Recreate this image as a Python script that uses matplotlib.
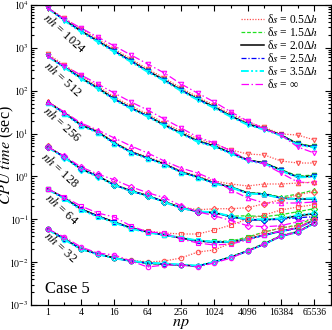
import math
import matplotlib
matplotlib.use('Agg')
import matplotlib.pyplot as plt
from matplotlib.lines import Line2D
from matplotlib.ticker import FixedLocator, FixedFormatter, LogLocator, NullFormatter, FuncFormatter

plt.rcParams['font.family'] = ['Liberation Serif', 'DejaVu Serif']
plt.rcParams['mathtext.fontset'] = 'stix'

# ---------------- data ----------------
n_procs = [1, 2, 4, 8, 16, 32, 64, 128, 256, 512, 1024, 2048, 4096, 8192, 16384, 32768, 65536]
x_ticks = [1, 4, 16, 64, 256, 1024, 4096, 16384, 65536]
x_tick_labels = ['1', '4', '16', '64', '256', '1024', '4096', '16384', '65536']
series_labels = ['δ$s$ = 0.5Δ$h$', 'δ$s$ = 1.5Δ$h$', 'δ$s$ = 2.0Δ$h$',
                 'δ$s$ = 2.5Δ$h$', 'δ$s$ = 3.5Δ$h$', 'δ$s$ = ∞']
nh_labels = ['1024', '512', '256', '128', '64', '32']

# nh = 1024
t1024_05 = [8600, 4900, 2750, 1600, 940, 550, 320, 198, 116, 71, 46, 28.5, 18.5, 14, 9.8, 9.25, 7.1]
t1024_15 = [8500, 4500, 2480, 1450, 850, 500, 290, 180, 105, 65, 42, 26, 17, 13, 9.4, 5.9, 5.0]
t1024_20 = [8500, 4470, 2470, 1445, 845, 494, 288, 178, 104, 64, 41.7, 25.7, 16.7, 12.8, 9.26, 5.71, 4.86]
t1024_25 = [8500, 4450, 2460, 1440, 840, 490, 285, 176, 103, 63, 41, 25.5, 16.5, 12.6, 9.1, 5.6, 4.8]
t1024_35 = [8400, 4300, 2350, 1380, 800, 470, 275, 170, 99, 61, 39.5, 24.5, 16, 12.3, 8.9, 5.5, 4.7]
t1024_inf = [8500, 4720, 2900, 1790, 1105, 682, 420, 259, 144, 88, 54.5, 31.9, 19.6, 12.8, 9.26, 4.86, 3.52]

# nh = 512
t512_05 = [720, 398, 220, 129, 71, 44, 28.6, 17.6, 11.5, 7.5, 5.7, 4.14, 3.34, 3.17, 2.29, 2.06, 2.05]
t512_15 = [650, 360, 200, 117, 65, 40, 26, 16, 10.4, 6.8, 5.2, 3.6, 2.45, 2.1, 1.45, 1.02, 1.08]
t512_20 = [646, 358, 198, 116, 64, 39.5, 25.7, 15.8, 10.3, 6.71, 5.13, 3.52, 2.42, 2.06, 1.41, 0.97, 1.02]
t512_25 = [640, 355, 196, 115, 63.5, 39, 25.4, 15.6, 10.2, 6.6, 5.05, 3.48, 2.38, 2.02, 1.38, 0.95, 1.0]
t512_35 = [630, 345, 190, 111, 61, 38, 24.8, 15.2, 9.9, 6.4, 4.9, 3.4, 2.32, 1.98, 1.36, 0.95, 0.98]
t512_inf = [646, 378, 233, 144, 88, 54.5, 35.5, 21.8, 13.5, 8.3, 6.03, 3.92, 2.42, 1.95, 1.2, 0.742, 0.70]

# nh = 256
t256_05 = [57, 31.8, 16.7, 11.5, 6.36, 3.92, 2.84, 2.06, 1.34, 1.02, 0.78, 0.666, 0.599, 0.666, 0.666, 0.70, 0.74]
t256_15 = [55, 30.5, 16, 11, 6.1, 3.75, 2.72, 1.97, 1.29, 0.98, 0.71, 0.575, 0.42, 0.40, 0.33, 0.388, 0.482]
t256_20 = [54.5, 30.2, 15.8, 10.9, 6.03, 3.72, 2.69, 1.95, 1.27, 0.97, 0.70, 0.567, 0.411, 0.389, 0.314, 0.297, 0.297]
t256_25 = [54, 30, 15.6, 10.8, 5.95, 3.68, 2.66, 1.93, 1.26, 0.96, 0.69, 0.56, 0.405, 0.385, 0.31, 0.293, 0.30]
t256_35 = [53, 29, 15.2, 10.5, 5.8, 3.6, 2.6, 1.88, 1.23, 0.94, 0.68, 0.555, 0.40, 0.38, 0.31, 0.30, 0.31]
t256_inf = [54.5, 31.9, 17.6, 12.1, 7.89, 5.13, 3.52, 2.29, 1.57, 1.2, 0.82, 0.483, 0.314, 0.24, 0.24, 0.24, 0.253]

# nh = 128
t128_05 = [5.0, 2.9, 1.52, 1.04, 0.65, 0.47, 0.36, 0.257, 0.196, 0.167, 0.176, 0.177, 0.186, 0.231, 0.286, 0.374, 0.44]
t128_15 = [4.9, 2.86, 1.5, 1.03, 0.64, 0.465, 0.358, 0.26, 0.188, 0.152, 0.145, 0.118, 0.121, 0.115, 0.128, 0.15, 0.177]
t128_20 = [4.86, 2.84, 1.49, 1.02, 0.636, 0.461, 0.355, 0.257, 0.186, 0.150, 0.142, 0.115, 0.0977, 0.0977, 0.103, 0.121, 0.135]
t128_25 = [4.85, 2.82, 1.48, 1.01, 0.63, 0.457, 0.352, 0.255, 0.184, 0.148, 0.14, 0.114, 0.097, 0.096, 0.1, 0.109, 0.115]
t128_35 = [4.75, 2.75, 1.44, 0.99, 0.62, 0.45, 0.345, 0.25, 0.182, 0.152, 0.146, 0.117, 0.1, 0.1, 0.105, 0.125, 0.14]
t128_inf = [4.86, 3.0, 1.66, 1.14, 0.832, 0.572, 0.417, 0.319, 0.207, 0.150, 0.121, 0.093, 0.0707, 0.0671, 0.0708, 0.0876, 0.103]

# nh = 64
t64_05 = [0.52, 0.32, 0.178, 0.122, 0.088, 0.064, 0.0533, 0.0479, 0.0454, 0.0453, 0.0562, 0.0735, 0.102, 0.126, 0.165, 0.193, 0.219]
t64_15 = [0.51, 0.316, 0.176, 0.12, 0.087, 0.063, 0.051, 0.0435, 0.037, 0.0318, 0.0305, 0.031, 0.0386, 0.0505, 0.0626, 0.0735, 0.109]
t64_20 = [0.509, 0.314, 0.174, 0.119, 0.0864, 0.0626, 0.0505, 0.0430, 0.0366, 0.0311, 0.0295, 0.0295, 0.0347, 0.0430, 0.0533, 0.0626, 0.0977]
t64_25 = [0.505, 0.31, 0.172, 0.118, 0.0855, 0.062, 0.05, 0.0425, 0.0362, 0.0308, 0.0292, 0.0292, 0.034, 0.042, 0.052, 0.061, 0.095]
t64_35 = [0.5, 0.3, 0.166, 0.114, 0.083, 0.0605, 0.049, 0.0428, 0.0375, 0.032, 0.03, 0.0298, 0.0345, 0.0425, 0.0525, 0.062, 0.097]
t64_inf = [0.509, 0.331, 0.204, 0.14, 0.113, 0.0697, 0.0505, 0.0479, 0.0347, 0.028, 0.0251, 0.0265, 0.0329, 0.043, 0.0533, 0.0626, 0.0977]

# nh = 32
t32_05 = [0.06, 0.035, 0.0205, 0.0157, 0.0127, 0.0112, 0.0101, 0.0106, 0.0125, 0.0172, 0.0192, 0.028, 0.0366, 0.0505, 0.0626, 0.0697, 0.0962]
t32_15 = [0.06, 0.035, 0.0205, 0.0156, 0.0126, 0.0107, 0.0093, 0.0088, 0.0085, 0.0082, 0.0102, 0.0135, 0.0188, 0.0275, 0.042, 0.052, 0.082]
t32_20 = [0.0593, 0.0347, 0.0203, 0.0155, 0.0125, 0.01063, 0.00955, 0.00905, 0.00858, 0.00813, 0.01008, 0.0132, 0.0182, 0.0265, 0.0407, 0.0505, 0.0819]
t32_25 = [0.059, 0.0345, 0.0202, 0.0154, 0.0124, 0.0105, 0.0095, 0.009, 0.0085, 0.0081, 0.01, 0.0131, 0.018, 0.0262, 0.0402, 0.05, 0.081]
t32_35 = [0.058, 0.0335, 0.0198, 0.0152, 0.0123, 0.0106, 0.0097, 0.0093, 0.0088, 0.0083, 0.0101, 0.0131, 0.0181, 0.0262, 0.04, 0.05, 0.08]
t32_inf = [0.0593, 0.0386, 0.0226, 0.0163, 0.0147, 0.01063, 0.0077, 0.00858, 0.00858, 0.0077, 0.0096, 0.0125, 0.0182, 0.0265, 0.0407, 0.0505, 0.0819]

groups = [
    ('1024', 'v', [t1024_05, t1024_15, t1024_20, t1024_25, t1024_35, t1024_inf]),
    ('512', 'v', [t512_05, t512_15, t512_20, t512_25, t512_35, t512_inf]),
    ('256', '^', [t256_05, t256_15, t256_20, t256_25, t256_35, t256_inf]),
    ('128', 'D', [t128_05, t128_15, t128_20, t128_25, t128_35, t128_inf]),
    ('64', 's', [t64_05, t64_15, t64_20, t64_25, t64_35, t64_inf]),
    ('32', 'o', [t32_05, t32_15, t32_20, t32_25, t32_35, t32_inf]),
]

# ---------------- styles ----------------
colors = ['#ff5050', '#20e020', '#000000', '#0000ff', '#00ffff', '#ff00ff']
styles = [(0, (1, 1.2)), (0, (3, 1.5)), '-', (0, (4, 1.5, 1, 1.5)),
          (0, (4, 1.2, 1, 1.2, 1, 1.2)), (0, (6, 2, 1.2, 2))]
widths = [0.9, 0.9, 1.1, 0.9, 1.4, 0.9]

fig = plt.figure(figsize=(3.32, 3.30), dpi=100)
ax = fig.add_axes([31 / 332, 25 / 330, 300 / 332, 300 / 330])
ax.set_xscale('log', base=2)
ax.set_yscale('log')

for nh, mk, series in groups:
    for i, vals in enumerate(series):
        ax.plot(n_procs, vals, color=colors[i], ls=styles[i], lw=widths[i],
                marker=mk, ms=3.2, mfc='none', mec=colors[i], mew=0.8)

ax.set_xlim(0.5, 131072)
ax.set_ylim(1e-3, 1e4)

ax.xaxis.set_major_locator(FixedLocator(x_ticks))
ax.xaxis.set_major_formatter(FixedFormatter(x_tick_labels))
ax.xaxis.set_minor_locator(FixedLocator([2 * v for v in x_ticks[:-1]]))
ax.xaxis.set_minor_formatter(NullFormatter())
ax.yaxis.set_major_locator(LogLocator(base=10, numticks=20))
ax.yaxis.set_major_formatter(FuncFormatter(lambda v, p: r'$10^{%d}$' % round(math.log10(v))))
ax.yaxis.set_minor_locator(LogLocator(base=10, subs=range(2, 10), numticks=50))
ax.yaxis.set_minor_formatter(NullFormatter())

ax.tick_params(which='both', direction='in', top=True, right=True, width=0.8)
ax.tick_params(which='major', length=4.5, pad=2.5)
ax.tick_params(axis='x', which='major', labelsize=7)
ax.tick_params(axis='y', which='major', labelsize=7, pad=1.5)
ax.tick_params(which='minor', length=2.5)
for s in ax.spines.values():
    s.set_linewidth(0.9)

ax.set_xlabel('$np$', fontsize=11.5)
ax.xaxis.set_label_coords(0.5, -0.032)
ax.set_ylabel('$CPU\\ time$ (sec)', fontsize=11.5)
ax.yaxis.set_label_coords(-0.05, 0.5)

# group annotations
label_pos = [(0.113, 0.905), (0.107, 0.755), (0.103, 0.605), (0.097, 0.45), (0.103, 0.32), (0.10, 0.193)]
for (nh, mk, series), (lx, ly) in zip(groups, label_pos):
    ax.text(lx, ly, r'$nh$ = ' + nh, transform=ax.transAxes, rotation=-42,
            ha='center', va='center', fontsize=9, rotation_mode='anchor')

ax.text(0.047, 0.04, 'Case 5', transform=ax.transAxes, fontsize=12, ha='left', va='baseline')

handles = [Line2D([], [], color=colors[i], ls=styles[i], lw=widths[i]) for i in range(6)]
ax.legend(handles, series_labels, loc='upper right', frameon=False, fontsize=8.3,
          handlelength=2.0, handletextpad=0.3, labelspacing=0.0,
          borderaxespad=0.0, bbox_to_anchor=(0.975, 0.99))

fig.savefig('out.png', dpi=100)
